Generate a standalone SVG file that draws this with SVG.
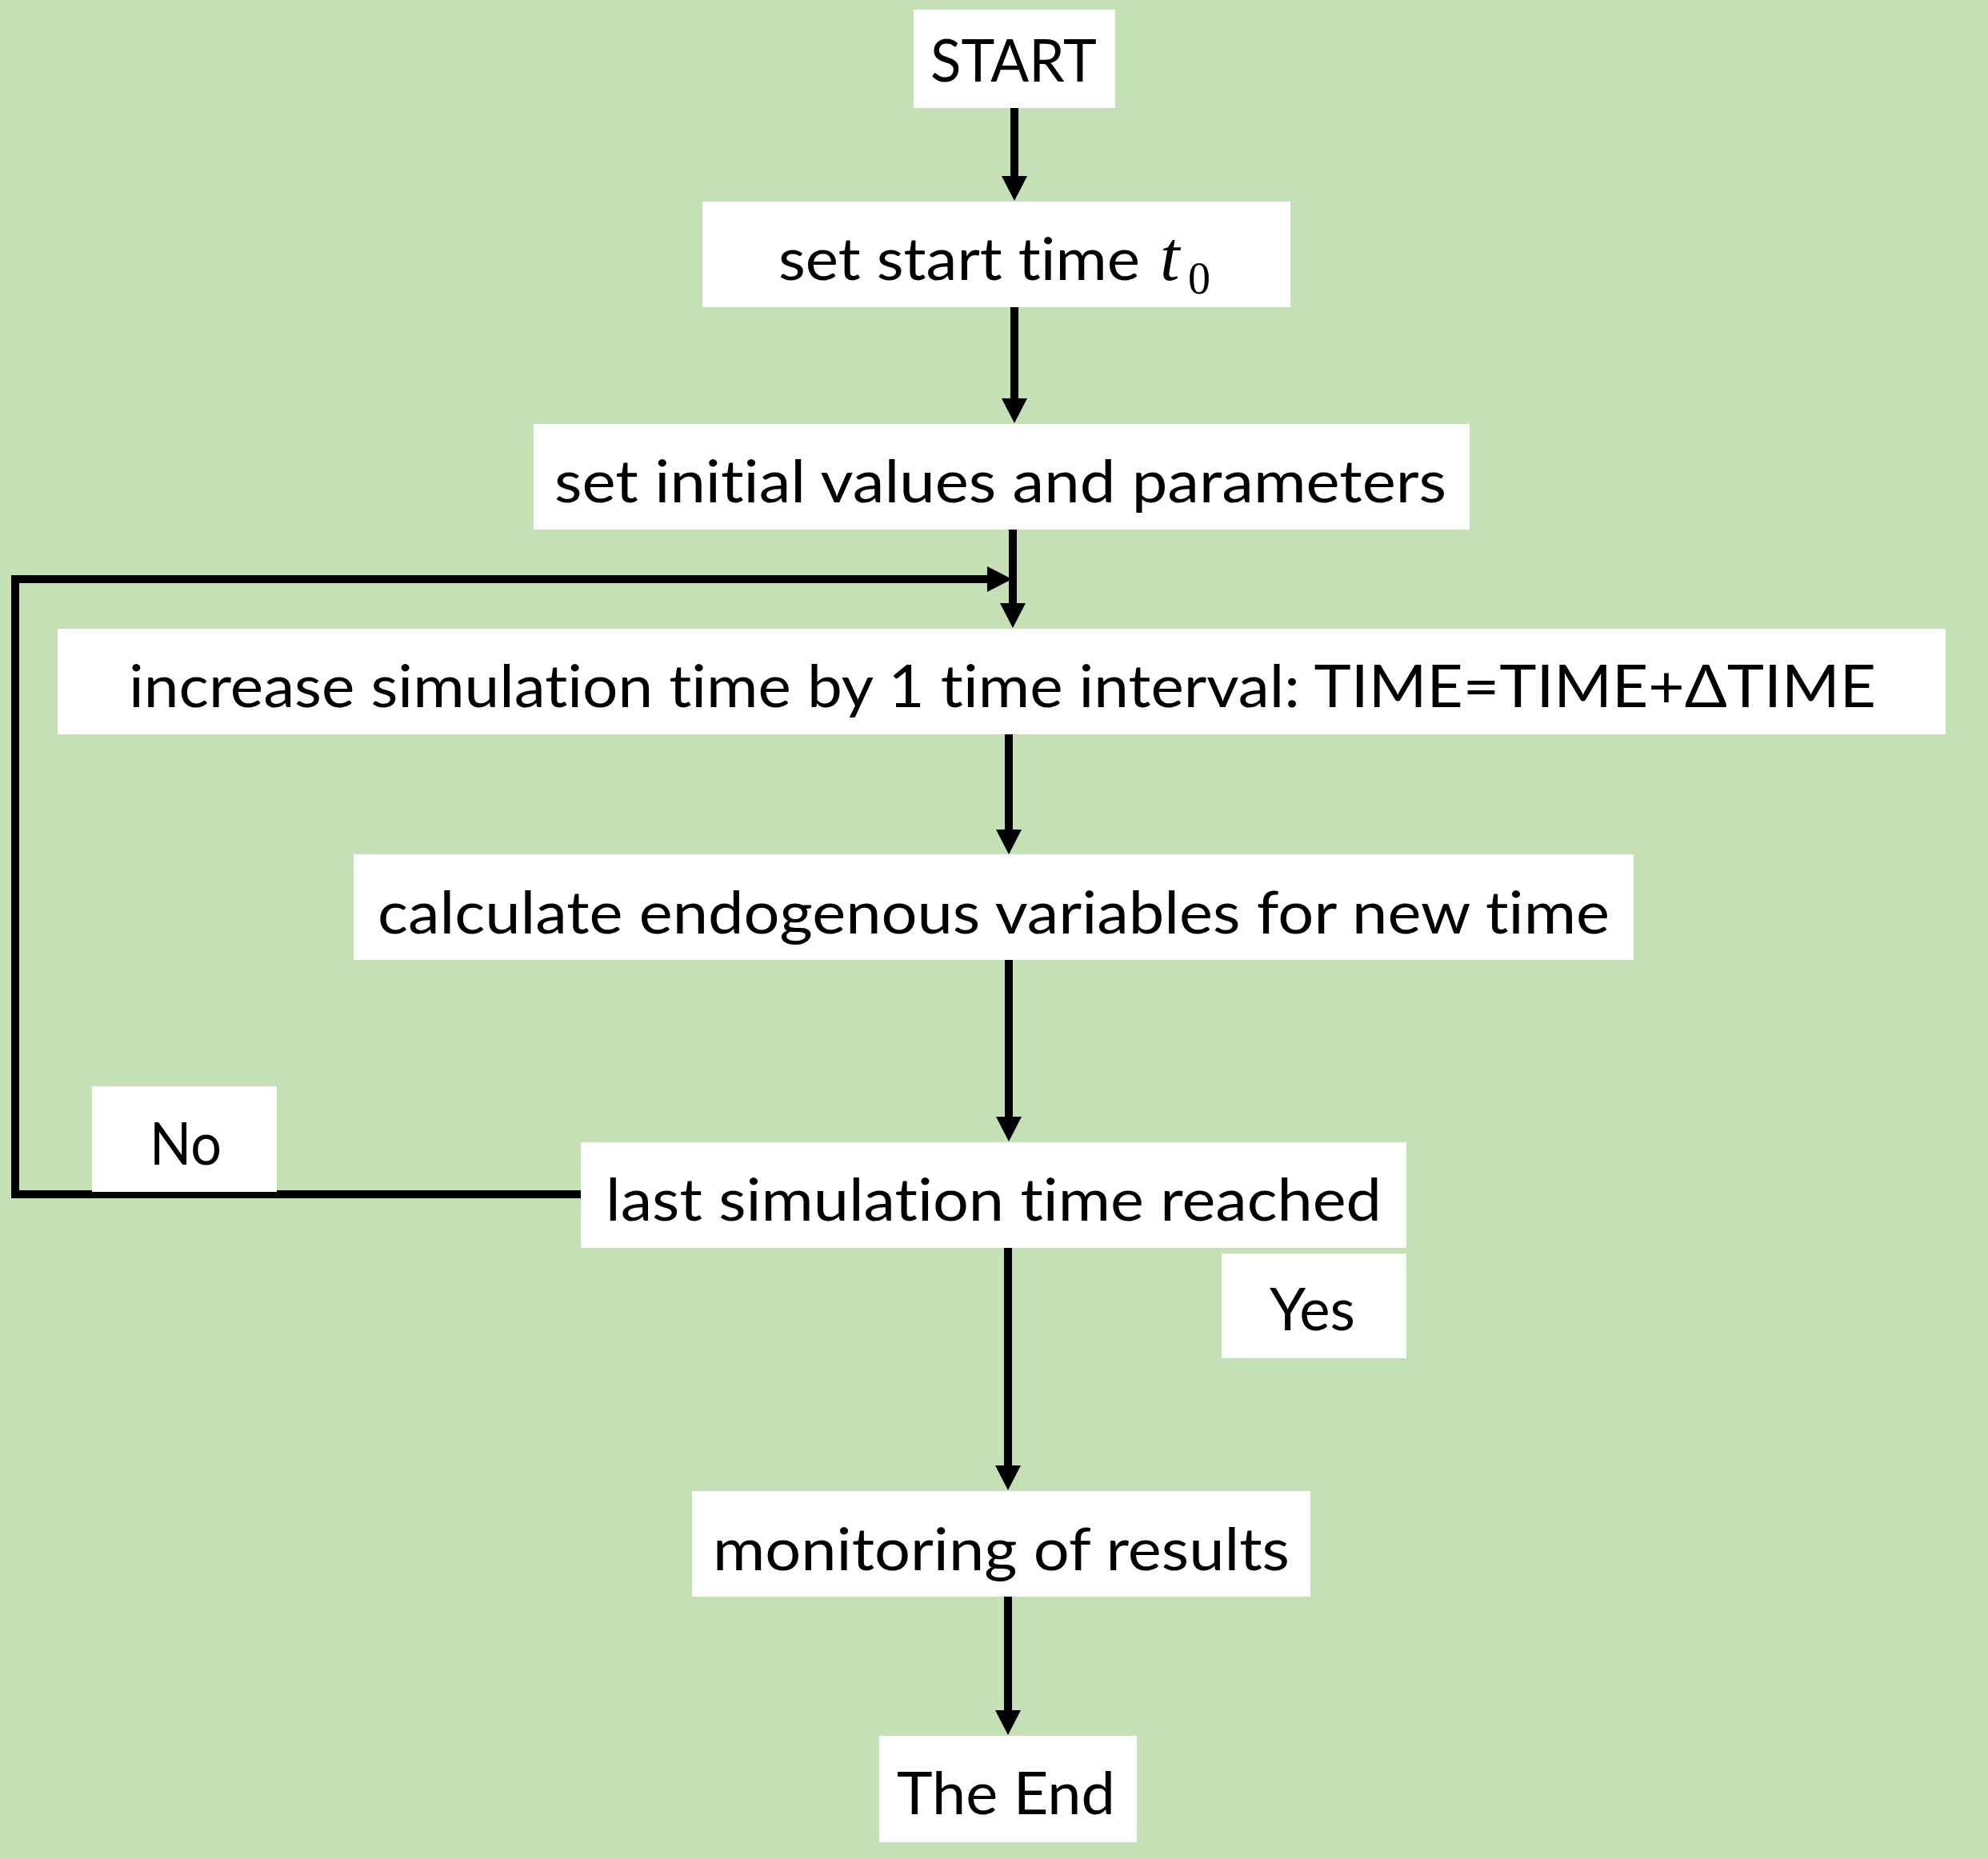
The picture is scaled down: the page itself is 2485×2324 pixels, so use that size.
<svg xmlns="http://www.w3.org/2000/svg" width="2485" height="2324" viewBox="0 0 2485 2324">
<defs>
<style>
.box{fill:#ffffff;}
.lbl{font-family:Lato,"Open Sans","Liberation Sans",sans-serif;font-size:74px;fill:#000000;font-variant-ligatures:none;font-feature-settings:"liga" 0,"clig" 0;}
.math{font-family:"Liberation Serif","DejaVu Serif",serif;fill:#000000;}
.conn{stroke:#000000;stroke-width:10;fill:none;marker-end:url(#ah);}
</style>
<marker id="ah" markerUnits="userSpaceOnUse" markerWidth="32" markerHeight="32" refX="1" refY="16" orient="auto" viewBox="0 0 32 32">
<path d="M0,0 L31,16 L0,32 Z" fill="#000000"/>
</marker>
</defs>
<rect x="0" y="0" width="2485" height="2324" fill="#C5E0B4"/>
<g id="connectors">
<line class="conn" x1="1268" y1="135" x2="1268" y2="221"/>
<line class="conn" x1="1268" y1="384" x2="1268" y2="499"/>
<line class="conn" x1="1266" y1="662" x2="1266" y2="755"/>
<path class="conn" d="M726,1493 L19,1493 L19,724 L1235,724"/>
<line class="conn" x1="1261" y1="918" x2="1261" y2="1038"/>
<line class="conn" x1="1261" y1="1200" x2="1261" y2="1397"/>
<line class="conn" x1="1260" y1="1560" x2="1260" y2="1833"/>
<line class="conn" x1="1260" y1="1996" x2="1260" y2="2139"/>
</g>
<g id="start">
<rect class="box" x="1142" y="12" width="252" height="123"/>
<text class="lbl" x="1163" y="102" textLength="208" lengthAdjust="spacingAndGlyphs">START</text>
</g>
<g id="set-start-time">
<rect class="box" x="878" y="252" width="735" height="132"/>
<text class="lbl" x="973" y="350" textLength="452" lengthAdjust="spacingAndGlyphs">set start time</text>
<text class="math" x="1450" y="350" font-size="88" font-style="italic">t</text>
<text class="math" x="1485" y="367" font-size="56">0</text>
</g>
<g id="set-initial">
<rect class="box" x="667" y="530" width="1170" height="132"/>
<text class="lbl" x="693" y="628" textLength="1115" lengthAdjust="spacingAndGlyphs">set initial values and parameters</text>
</g>
<g id="increase">
<rect class="box" x="72" y="786" width="2360" height="132"/>
<text class="lbl" x="161" y="884" textLength="2184" lengthAdjust="spacingAndGlyphs">increase simulation time by 1 time interval: TIME=TIME+ΔTIME</text>
</g>
<g id="calculate">
<rect class="box" x="442" y="1068" width="1600" height="132"/>
<text class="lbl" x="472" y="1167" textLength="1540" lengthAdjust="spacingAndGlyphs">calculate endogenous variables for new time</text>
</g>
<g id="last-time">
<rect class="box" x="726" y="1428" width="1032" height="132"/>
<text class="lbl" x="757" y="1526" textLength="970" lengthAdjust="spacingAndGlyphs">last simulation time reached</text>
</g>
<g id="no-label">
<rect class="box" x="115" y="1358" width="231" height="132"/>
<text class="lbl" x="187" y="1456" textLength="90" lengthAdjust="spacingAndGlyphs">No</text>
</g>
<g id="yes-label">
<rect class="box" x="1527" y="1567" width="231" height="131"/>
<text class="lbl" x="1587" y="1663" textLength="107" lengthAdjust="spacingAndGlyphs">Yes</text>
</g>
<g id="monitoring">
<rect class="box" x="865" y="1864" width="773" height="132"/>
<text class="lbl" x="891" y="1963" textLength="721" lengthAdjust="spacingAndGlyphs">monitoring of results</text>
</g>
<g id="the-end">
<rect class="box" x="1099" y="2170" width="322" height="133"/>
<text class="lbl" x="1121" y="2268" textLength="273" lengthAdjust="spacingAndGlyphs">The End</text>
</g>
</svg>
